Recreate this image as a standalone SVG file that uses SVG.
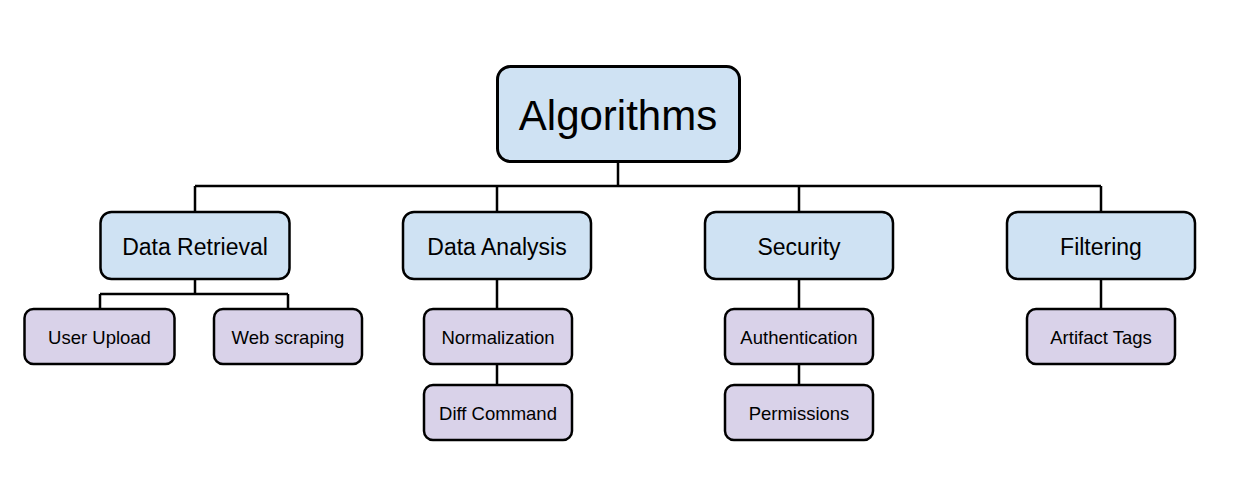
<svg xmlns="http://www.w3.org/2000/svg" width="1235" height="490" viewBox="0 0 1235 490">
<style>
.root rect{fill:#cfe2f3;stroke:#000;stroke-width:3}
.l1 rect{fill:#cfe2f3;stroke:#000;stroke-width:2.5}
.l2 rect{fill:#d9d2e9;stroke:#000;stroke-width:2.5}
text{font-family:"Liberation Sans",Arial,sans-serif;fill:#000;text-anchor:middle}
.root text{font-size:42px}
.l1 text{font-size:23px}
.l2 text{font-size:18.5px}
#connectors path{fill:none;stroke:#000;stroke-width:2.5}
</style>
<rect width="1235" height="490" fill="#fff"/>
<g id="connectors">
<path d="M618,162V186M195,186H1101M195,186V212M497,186V212M799,186V212M1101,186V212"/>
<path d="M195,280V294M100,294H288M100,294V308M288,294V308"/>
<path d="M497,280V308M497,364V385"/>
<path d="M799,280V308M799,364V385"/>
<path d="M1101,280V308"/>
</g>
<g id="algorithms" class="root"><rect x="497.5" y="66.5" width="242" height="95" rx="13"/><text x="618" y="130">Algorithms</text></g>
<g id="data-retrieval" class="l1"><rect x="100.5" y="212" width="189" height="67" rx="11"/><text x="195" y="255">Data Retrieval</text></g>
<g id="data-analysis" class="l1"><rect x="403" y="212" width="188" height="67" rx="11"/><text x="497" y="255">Data Analysis</text></g>
<g id="security" class="l1"><rect x="705" y="212" width="188" height="67" rx="11"/><text x="799" y="255">Security</text></g>
<g id="filtering" class="l1"><rect x="1007" y="212" width="188" height="67" rx="11"/><text x="1101" y="255">Filtering</text></g>
<g id="user-upload" class="l2"><rect x="24.5" y="309" width="150" height="55" rx="9"/><text x="99.5" y="344">User Upload</text></g>
<g id="web-scraping" class="l2"><rect x="214" y="309" width="148" height="55" rx="9"/><text x="288" y="344">Web scraping</text></g>
<g id="normalization" class="l2"><rect x="424" y="309" width="148" height="55" rx="9"/><text x="498" y="344">Normalization</text></g>
<g id="diff-command" class="l2"><rect x="424" y="385" width="148" height="55" rx="9"/><text x="498" y="420">Diff Command</text></g>
<g id="authentication" class="l2"><rect x="725" y="309" width="148" height="55" rx="9"/><text x="799" y="344">Authentication</text></g>
<g id="permissions" class="l2"><rect x="725" y="385" width="148" height="55" rx="9"/><text x="799" y="420">Permissions</text></g>
<g id="artifact-tags" class="l2"><rect x="1027" y="309" width="148" height="55" rx="9"/><text x="1101" y="344">Artifact Tags</text></g>
</svg>
